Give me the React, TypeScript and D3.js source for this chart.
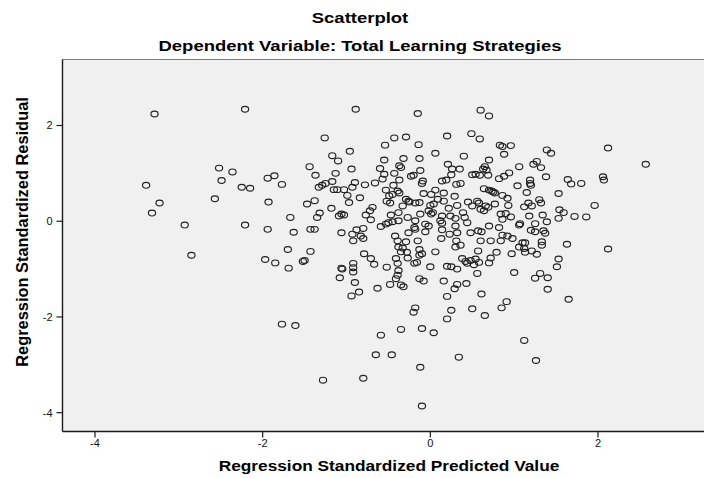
import React, { useEffect, useRef } from 'react';
import * as d3 from 'd3';

const xTicks = [-4, -2, 0, 2];
const yTicks = [-4, -2, 0, 2];

// [predicted, residual] pairs
const leftGroup: [number, number][] = [
  [-3.29, 2.24], [-2.21, 2.34], [-2.52, 1.11], [-2.36, 1.03], [-2.49, 0.85], [-3.39, 0.75],
  [-1.94, 0.9], [-1.86, 0.95], [-1.77, 0.77], [-2.25, 0.71], [-2.15, 0.69], [-2.57, 0.47],
  [-3.23, 0.38], [-1.93, 0.4], [-3.32, 0.17], [-2.93, -0.08], [-2.21, -0.08], [-1.94, -0.17],
  [-2.85, -0.71], [-1.97, -0.8], [-1.85, -0.87], [-1.77, -2.15]
];

const coreUpper: [number, number][] = [
  [-0.89, 2.34], [-0.15, 2.25], [-1.26, 1.74], [-0.43, 1.74], [-0.29, 1.76], [0.2, 1.78],
  [-0.54, 1.59], [-0.14, 1.6], [-0.96, 1.46], [0.06, 1.42], [-1.17, 1.37], [-1.1, 1.26],
  [-0.55, 1.28], [-0.32, 1.31], [-0.13, 1.31], [-1.44, 1.14], [-0.94, 1.09], [-0.6, 1.1],
  [-0.37, 1.16], [-0.35, 1.12], [-0.12, 1.06], [0.21, 1.19], [-1.37, 0.96], [-1.13, 1.0],
  [-0.55, 0.98], [-0.43, 1.0], [-0.23, 0.94], [-0.2, 0.96], [0.26, 1.09], [0.25, 0.97],
  [-1.33, 0.71], [-1.29, 0.75], [-1.25, 0.79], [-1.17, 0.83], [-0.9, 0.81], [-0.78, 0.76],
  [-0.66, 0.8], [-0.57, 0.88], [-0.37, 0.86], [-0.44, 0.75], [-0.09, 0.84], [-0.1, 0.79],
  [0.14, 0.84], [0.19, 0.86], [-1.15, 0.66], [-1.11, 0.66], [-1.03, 0.66], [-0.93, 0.71],
  [-0.99, 0.54], [-0.84, 0.49], [-0.97, 0.39], [-0.53, 0.65], [-0.49, 0.53], [-0.45, 0.56],
  [-0.39, 0.63], [-0.37, 0.59], [-0.52, 0.42], [-0.48, 0.38], [-0.29, 0.46], [-0.26, 0.42],
  [-0.25, 0.4], [-0.18, 0.38], [-0.13, 0.39], [-0.08, 0.58], [0.01, 0.56], [0.06, 0.65],
  [0.16, 0.59], [0.09, 0.46], [0.0, 0.33], [0.04, 0.36], [0.16, 0.42], [0.22, 0.27],
  [-1.47, 0.36], [-1.38, 0.43], [-1.18, 0.27], [-1.67, 0.08], [-1.35, 0.08], [-1.32, 0.17],
  [-1.09, 0.11], [-1.06, 0.15], [-1.03, 0.13], [-0.77, 0.13], [-0.72, 0.22], [-0.69, 0.29],
  [-0.71, 0.03], [-0.47, 0.13], [-0.38, 0.18], [-0.33, 0.32], [-0.45, -0.01], [-0.38, 0.01],
  [-0.27, 0.08], [-0.18, 0.01], [-0.12, 0.15], [-0.02, 0.22], [0.01, 0.15], [0.03, 0.18],
  [-0.06, -0.06], [0.12, 0.01], [0.14, -0.04], [0.14, 0.11], [0.24, 0.11], [-1.63, -0.23],
  [-1.43, -0.17], [-1.38, -0.17], [-1.06, -0.24], [-0.93, -0.27], [-0.88, -0.18], [-0.8, -0.15],
  [-0.83, -0.31], [-0.8, -0.36], [-0.92, -0.41], [-0.59, -0.11], [-0.53, -0.06], [-0.5, -0.03],
  [-0.42, -0.31], [-0.39, -0.41], [-0.26, -0.24], [-0.29, -0.43], [-0.19, -0.13], [-0.18, -0.17],
  [-0.15, -0.41], [-0.06, -0.22], [-0.02, -0.1], [0.14, -0.18], [0.13, -0.36], [0.23, -0.27]
];

const coreLower: [number, number][] = [
  [-1.7, -0.59], [-1.43, -0.63], [-1.52, -0.84], [-1.5, -0.82], [-1.69, -0.98], [-0.79, -0.68],
  [-0.71, -0.78], [-0.67, -0.9], [-1.06, -0.98], [-1.05, -1.0], [-0.92, -0.88], [-0.92, -0.97],
  [-0.92, -1.06], [-1.08, -1.18], [-0.9, -1.28], [-0.85, -1.48], [-0.94, -1.56], [-0.63, -1.4],
  [-0.52, -0.96], [-0.41, -0.78], [-0.39, -0.88], [-0.38, -1.03], [-0.39, -1.13], [-0.41, -1.2],
  [-0.35, -0.64], [-0.33, -0.56], [-0.28, -0.65], [-0.27, -0.77], [-0.38, -0.54], [-0.19, -0.88],
  [-0.16, -0.86], [-0.13, -0.71], [-0.1, -0.68], [-0.13, -0.59], [-0.48, -1.32], [-0.35, -1.33],
  [-0.32, -1.37], [-0.13, -1.2], [-0.08, -1.25], [0.0, -0.95], [0.06, -0.64], [0.16, -1.25],
  [0.25, -0.95], [0.2, -0.94], [0.2, -1.57], [-0.18, -1.81], [-0.2, -1.9], [0.2, -2.04],
  [0.25, -1.86], [-1.61, -2.18], [-0.59, -2.38], [-0.35, -2.26], [-0.1, -2.24], [0.04, -2.33],
  [-0.65, -2.79], [-0.46, -2.79], [-0.12, -3.05], [-1.28, -3.32], [-0.8, -3.28], [-0.1, -3.86]
];

const rightUpper: [number, number][] = [
  [0.6, 2.32], [0.7, 2.2], [0.49, 1.83], [0.59, 1.72], [0.83, 1.59], [0.86, 1.56],
  [0.96, 1.58], [0.88, 1.4], [0.4, 1.36], [1.39, 1.49], [1.44, 1.42], [2.12, 1.53],
  [2.57, 1.19], [0.7, 1.28], [0.65, 1.14], [0.63, 1.09], [0.67, 1.07], [0.69, 0.96],
  [0.5, 0.97], [0.54, 0.98], [0.59, 0.96], [0.35, 1.09], [0.31, 0.77], [0.36, 0.79],
  [0.82, 0.89], [0.88, 0.94], [0.94, 1.01], [1.06, 1.14], [1.23, 1.19], [1.27, 1.25],
  [1.32, 1.12], [1.38, 0.93], [1.19, 0.86], [1.19, 0.79], [1.2, 0.75], [1.04, 0.74],
  [1.64, 0.87], [1.68, 0.78], [1.8, 0.79], [2.06, 0.93], [2.07, 0.86], [1.53, 0.58],
  [1.96, 0.33], [0.64, 0.68], [0.7, 0.65], [0.75, 0.61], [0.77, 0.59], [0.73, 0.63],
  [0.86, 0.54], [0.92, 0.48], [0.93, 0.33], [1.15, 0.6], [1.17, 0.38], [1.21, 0.32],
  [1.12, 0.3], [1.3, 0.45], [1.32, 0.38], [0.29, 0.52], [0.32, 0.33], [0.45, 0.4],
  [0.5, 0.32], [0.56, 0.42], [0.58, 0.38], [0.6, 0.25], [0.64, 0.22], [0.66, 0.32],
  [0.69, 0.29], [0.77, 0.36], [0.39, 0.18], [0.41, 0.08], [0.44, -0.03], [0.3, 0.06],
  [0.3, -0.1], [0.84, 0.15], [0.86, 0.04], [0.9, 0.16], [0.96, 0.09], [1.18, 0.11],
  [1.34, 0.13], [1.39, -0.01], [1.25, -0.05], [1.07, -0.05], [1.06, -0.08], [1.54, 0.24],
  [1.59, 0.18], [1.53, 0.06], [1.72, 0.1], [1.86, 0.09], [0.7, -0.1], [0.82, -0.13],
  [0.48, -0.24], [0.57, -0.2], [0.61, -0.22], [0.86, -0.29], [0.92, -0.31], [0.98, -0.36],
  [1.2, -0.19], [1.25, -0.22], [1.35, -0.2], [1.37, -0.25], [0.32, -0.24], [0.31, -0.41],
  [0.6, -0.41], [0.72, -0.41], [0.84, -0.41], [1.1, -0.45], [1.13, -0.45], [1.33, -0.43],
  [1.63, -0.48]
];

const rightLower: [number, number][] = [
  [0.3, -0.54], [0.36, -0.5], [0.57, -0.62], [0.79, -0.65], [0.72, -0.77], [0.7, -0.87],
  [0.38, -0.78], [0.42, -0.84], [0.48, -0.82], [0.54, -0.79], [0.58, -0.86], [0.52, -0.91],
  [0.44, -0.88], [0.32, -1.0], [0.56, -1.09], [0.97, -0.68], [1.06, -0.54], [1.12, -0.57],
  [1.13, -0.65], [1.21, -0.62], [1.27, -0.69], [1.33, -0.5], [2.12, -0.58], [1.53, -0.79],
  [1.51, -0.95], [1.0, -1.07], [1.25, -1.19], [1.31, -1.09], [1.4, -1.18], [1.4, -1.42],
  [1.65, -1.63], [0.32, -1.32], [0.43, -1.3], [0.29, -1.41], [0.61, -1.52], [0.5, -1.83],
  [0.65, -1.97], [0.85, -1.81], [0.91, -1.68], [1.12, -2.49], [0.34, -2.84], [1.26, -2.91]
];

const W = 704;
const H = 478;
const frame = { left: 62.5, top: 59.5, bottom: 431.5, right: W + 10 };
const font = '"Liberation Sans", Arial, sans-serif';
// the reference text is a little wider than it is tall
const stretch = 1.2;

export default function App() {
  const svgRef = useRef<SVGSVGElement>(null);

  useEffect(() => {
    if (!svgRef.current) return;
    const svg = d3.select(svgRef.current);
    svg.selectAll('*').remove();

    const x = d3.scaleLinear().domain([-4, 2]).range([95, 598]);
    const y = d3.scaleLinear().domain([-4, 2]).range([412.7, 125.5]);

    // plot background
    svg.append('rect')
      .attr('x', frame.left)
      .attr('y', frame.top)
      .attr('width', frame.right - frame.left)
      .attr('height', frame.bottom - frame.top)
      .attr('fill', '#f0f0f0');

    svg.append('line')
      .attr('x1', frame.left).attr('x2', frame.right)
      .attr('y1', frame.top).attr('y2', frame.top)
      .attr('stroke', '#7a7a7a').attr('stroke-width', 1.2);

    const points = [...leftGroup, ...coreUpper, ...coreLower, ...rightUpper, ...rightLower];

    svg.append('g')
      .selectAll('ellipse')
      .data(points)
      .enter()
      .append('ellipse')
      .attr('cx', d => x(d[0]))
      .attr('cy', d => y(d[1]))
      .attr('rx', 3.6)
      .attr('ry', 2.9)
      .attr('fill', 'none')
      .attr('stroke', '#222')
      .attr('stroke-width', 1.15);

    // axes
    const axisColor = '#1a1a1a';
    svg.append('line')
      .attr('x1', frame.left).attr('x2', frame.left)
      .attr('y1', frame.top).attr('y2', frame.bottom)
      .attr('stroke', axisColor).attr('stroke-width', 1.4);
    svg.append('line')
      .attr('x1', frame.left).attr('x2', frame.right)
      .attr('y1', frame.bottom).attr('y2', frame.bottom)
      .attr('stroke', axisColor).attr('stroke-width', 1.4);

    const yt = svg.append('g');
    yTicks.forEach(t => {
      yt.append('line')
        .attr('x1', frame.left - 6).attr('x2', frame.left)
        .attr('y1', y(t)).attr('y2', y(t))
        .attr('stroke', axisColor).attr('stroke-width', 1.2);
      yt.append('text')
        .attr('x', frame.left - 10)
        .attr('y', y(t))
        .attr('dy', '0.35em')
        .attr('text-anchor', 'end')
        .style('font-family', font)
        .style('font-size', '11px')
        .style('fill', '#111')
        .text(t);
    });

    const xt = svg.append('g');
    xTicks.forEach(t => {
      xt.append('line')
        .attr('x1', x(t)).attr('x2', x(t))
        .attr('y1', frame.bottom).attr('y2', frame.bottom + 6)
        .attr('stroke', axisColor).attr('stroke-width', 1.2);
      xt.append('text')
        .attr('x', x(t))
        .attr('y', frame.bottom + 12)
        .attr('dy', '0.35em')
        .attr('text-anchor', 'middle')
        .style('font-family', font)
        .style('font-size', '11px')
        .style('fill', '#111')
        .text(t);
    });

    // titles
    const title = (txt: string, tx: number, ty: number, size: number, rotate = false) => {
      svg.append('text')
        .attr('text-anchor', 'middle')
        .attr('dy', '0.35em')
        .attr('transform', rotate
          ? `translate(${tx},${ty}) rotate(-90)`
          : `translate(${tx},${ty}) scale(${stretch},1)`)
        .style('font-family', font)
        .style('font-weight', 'bold')
        .style('font-size', `${size}px`)
        .style('fill', '#000')
        .text(txt);
    };
    title('Scatterplot', 360, 18, 15.4);
    title('Dependent Variable: Total Learning Strategies', 360, 46, 15.4);
    title('Regression Standardized Predicted Value', 389, 466, 14.4);
    title('Regression Standardized Residual', 22, 232, 16.4, true);
  }, []);

  return (
    <svg
      ref={svgRef}
      width={W}
      height={H}
      style={{ position: 'absolute', left: 0, top: 0, background: '#fff' }}
    />
  );
}
